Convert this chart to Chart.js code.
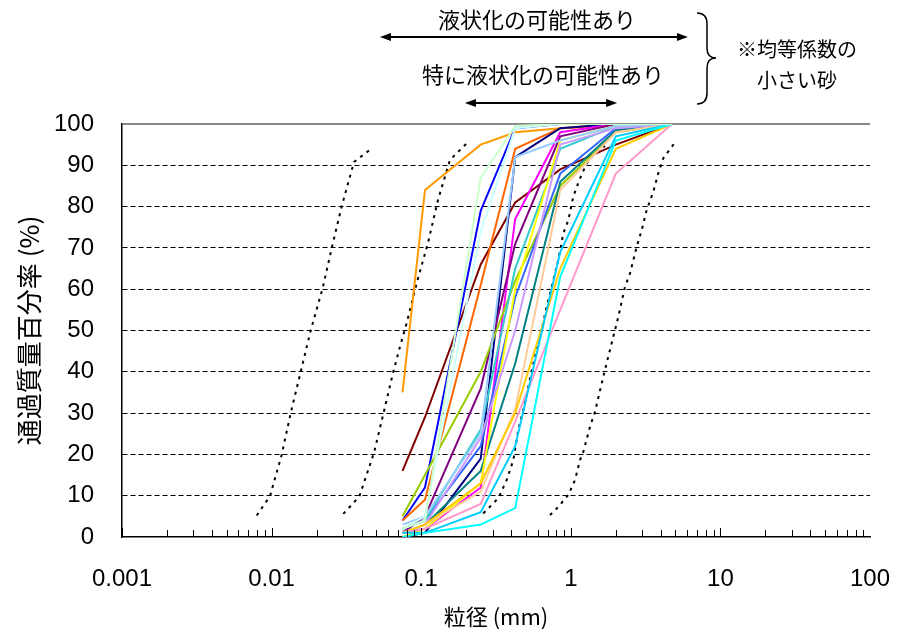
<!DOCTYPE html>
<html>
<head>
<meta charset="utf-8">
<script src="https://cdn.jsdelivr.net/npm/chart.js@4.4.0/dist/chart.umd.min.js"></script>
<style>
  html, body { margin: 0; padding: 0; background: #fff; }
  #wrap { width: 897px; height: 632px; }
</style>
</head>
<body>
<div id="wrap"><canvas id="c"></canvas></div>
<script>
// ふるい目 (mm)
const sieve = [0.075, 0.106, 0.25, 0.425, 0.85, 2, 4.75];

// 各試料の通過質量百分率 (%)
const sOrange    = [35, 84, 95, 98, 99, 99.5, 100];
const sMaroon    = [16, 29, 66, 81, 89, 95, 100];
const sBlue      = [4, 12, 79, 99, 100, 100, 100];
const sPaleGreen = [2, 4, 87, 99.5, 100, 100, 100];
const sPaleCyan  = [2, 5, 74, 99, 100, 100, 100];
const sOrangeRed = [4, 9, 61, 94, 99, 100, 100];
const sNavy      = [0, 1, 19, 92, 99, 100, 100];
const sSkyBlue   = [3, 5, 25, 92, 96, 99.5, 100];
const sMagenta   = [1, 2, 12, 77, 98, 100, 100];
const sPurple    = [1, 5, 36, 71, 97, 100, 100];
const sYellowGrn = [5, 15, 40, 62, 85, 98, 100];
const sTeal      = [1, 3, 16, 42, 86, 98.5, 100];
const sRoyal     = [2, 4, 22, 58, 88, 99, 100];
const sTurquoise = [2, 4, 26, 65, 94, 99.5, 100];
const sYellow    = [0, 2, 13, 60, 96, 99.5, 100];
const sLavender  = [1, 3, 24, 50, 95, 99, 100];
const sPeach     = [1, 3, 11, 31, 84, 98, 100];
const sGold      = [1, 3, 13, 30, 65, 94, 100];
const sPink      = [1, 2, 8, 28, 55, 88, 100];
const sDeepSky   = [1, 1, 6, 22, 69, 97, 100];
const sCyan      = [0, 1, 3, 7, 63, 96, 100];

// 境界線 (点線)
const bound1X = [0.00795, 0.00976, 0.01168, 0.01342, 0.01565, 0.01825, 0.02196, 0.02533, 0.02942, 0.03555, 0.04597];
const bound1Y = [5.2, 9.9, 19.9, 30.0, 40.0, 50.0, 60.3, 70.2, 80.1, 90.8, 93.9];
const bound2X = [0.03015, 0.03857, 0.04836, 0.05728, 0.06478, 0.07217, 0.08001, 0.09333, 0.1110, 0.1295, 0.1557, 0.2014];
const bound2Y = [5.6, 9.8, 20.4, 31.5, 39.7, 46.1, 51.8, 61.5, 71.2, 81.6, 91.3, 95.3];
const bound3X = [0.260, 0.3277, 0.3728, 0.4127, 0.4457, 0.4814, 0.5073, 0.5479, 0.6226, 0.6903, 0.7638, 0.8250, 0.8912, 0.9623, 1.039, 1.140, 1.277, 1.451, 1.693];
const bound3Y = [5.7, 9.4, 13.8, 18.6, 25.9, 30.8, 34.4, 40.4, 48.5, 55.8, 62.2, 67.1, 73.5, 76.7, 82.4, 86.4, 90.5, 92.9, 94.7];
const bound4X = [0.7261, 0.8250, 0.9623, 1.067, 1.152, 1.212, 1.344, 1.451, 1.609, 1.781, 1.924, 2.078, 2.303, 2.487, 2.757, 2.978, 3.217, 3.561, 3.845, 4.152, 4.896];
const bound4Y = [5.3, 7.3, 10.2, 13.8, 18.6, 20.6, 26.7, 30.3, 37.2, 43.7, 48.5, 53.3, 60.6, 63.8, 70.3, 74.3, 79.2, 83.6, 88.1, 91.7, 95.2];

// 目盛り
const xTickValues = [0.001, 0.01, 0.1, 1, 10, 100];
const arrowWide = [0.053, 6.07];
const arrowNarrow = [0.196, 2.04];

const series = [
  [sPaleGreen, '#CCFFCC'], [sPaleCyan, '#CCFFFF'], [sSkyBlue, '#99CCFF'],
  [sCyan, '#00FFFF'], [sDeepSky, '#00CCFF'], [sPink, '#FF99CC'],
  [sGold, '#FFCC00'], [sPeach, '#FFCC99'], [sLavender, '#CC99FF'],
  [sYellow, '#FFFF00'], [sTurquoise, '#33CCCC'], [sRoyal, '#3366FF'],
  [sTeal, '#008080'], [sYellowGrn, '#99CC00'], [sPurple, '#800080'],
  [sMagenta, '#FF00FF'], [sNavy, '#000080'], [sOrangeRed, '#FF6600'],
  [sBlue, '#0000FF'], [sMaroon, '#800000'], [sOrange, '#FF9900']
];

function toPoints(xs, ys) {
  return xs.map((x, i) => ({ x: x, y: ys[i] }));
}

const datasets = series.map(([vals, color]) => ({
  data: toPoints(sieve, vals),
  borderColor: color,
  borderWidth: 2,
  pointRadius: 0,
  tension: 0
}));

[[bound1X, bound1Y], [bound2X, bound2Y], [bound3X, bound3Y], [bound4X, bound4Y]].forEach(([xs, ys]) => {
  datasets.push({
    data: toPoints(xs, ys),
    borderColor: '#000',
    borderWidth: 2,
    borderDash: [3, 5],
    pointRadius: 0,
    tension: 0
  });
});

// x軸の内向き目盛り
const minorTicks = {
  id: 'minorTicks',
  afterDatasetsDraw(chart) {
    const xs = chart.scales.x, ctx = chart.ctx, bottom = chart.chartArea.bottom;
    ctx.save();
    ctx.strokeStyle = '#000';
    ctx.lineWidth = 1;
    for (let e = -3; e < 2; e++) {
      for (let k = 1; k <= 9; k++) {
        const px = Math.round(xs.getPixelForValue(k * Math.pow(10, e))) + 0.5;
        const len = k === 1 ? 9 : 7;
        ctx.beginPath();
        ctx.moveTo(px, bottom);
        ctx.lineTo(px, bottom - len);
        ctx.stroke();
      }
    }
    ctx.restore();
  }
};

function arrow(ctx, x1, x2, y) {
  ctx.beginPath();
  ctx.moveTo(x1 + 8, y);
  ctx.lineTo(x2 - 8, y);
  ctx.stroke();
  ctx.beginPath();
  ctx.moveTo(x1, y); ctx.lineTo(x1 + 11, y - 4); ctx.lineTo(x1 + 11, y + 4); ctx.closePath();
  ctx.fill();
  ctx.beginPath();
  ctx.moveTo(x2, y); ctx.lineTo(x2 - 11, y - 4); ctx.lineTo(x2 - 11, y + 4); ctx.closePath();
  ctx.fill();
}

// 上部の注記
const notes = {
  id: 'notes',
  afterDraw(chart) {
    const xs = chart.scales.x, ctx = chart.ctx;
    ctx.save();
    ctx.fillStyle = '#000';
    ctx.strokeStyle = '#000';
    ctx.lineWidth = 2;
    arrow(ctx, xs.getPixelForValue(arrowWide[0]), xs.getPixelForValue(arrowWide[1]), 37);
    arrow(ctx, xs.getPixelForValue(arrowNarrow[0]), xs.getPixelForValue(arrowNarrow[1]), 103);

    ctx.font = '22px "Noto Sans CJK JP"';
    ctx.textAlign = 'center';
    ctx.textBaseline = 'middle';
    ctx.fillText('液状化の可能性あり', 537, 20);
    ctx.fillText('特に液状化の可能性あり', 543, 75);
    ctx.font = '20px "Noto Sans CJK JP"';
    ctx.fillText('※均等係数の', 797, 49);
    ctx.fillText('小さい砂', 797, 80);

    // 中括弧
    ctx.lineWidth = 1.5;
    ctx.beginPath();
    ctx.moveTo(697, 13);
    ctx.quadraticCurveTo(707, 13, 707, 24);
    ctx.lineTo(707, 48);
    ctx.quadraticCurveTo(707, 58, 716, 58);
    ctx.quadraticCurveTo(707, 58, 707, 68);
    ctx.lineTo(707, 93);
    ctx.quadraticCurveTo(707, 104, 697, 104);
    ctx.stroke();
    ctx.restore();
  }
};

new Chart(document.getElementById('c'), {
  type: 'line',
  data: { datasets: datasets },
  plugins: [minorTicks, notes],
  options: {
    responsive: true,
    maintainAspectRatio: false,
    animation: false,
    layout: { padding: { top: 124, right: 27, left: 0, bottom: 0 } },
    plugins: { legend: { display: false }, tooltip: { enabled: false } },
    scales: {
      x: {
        type: 'logarithmic',
        min: 0.001,
        max: 100,
        afterFit: s => { s.height = 95; s.paddingLeft = 0; s.paddingRight = 0; },
        afterBuildTicks: s => { s.ticks = xTickValues.map(v => ({ value: v })); },
        grid: { display: false, drawTicks: false },
        border: { display: true, color: '#000', width: 1.5 },
        ticks: {
          color: '#000',
          padding: 28,
          maxRotation: 0,
          autoSkip: false,
          font: { family: '"Liberation Sans", Arial, sans-serif', size: 24 },
          callback: v => String(v)
        },
        title: {
          display: true,
          text: '粒径 (mm)',
          color: '#000',
          font: { family: '"Noto Sans CJK JP", sans-serif', size: 22 },
          padding: { top: 0, bottom: 2 }
        }
      },
      y: {
        min: 0,
        max: 100,
        afterFit: s => { s.width = 122; },
        grid: {
          drawTicks: false,
          color: c => c.tick.value === 0 ? 'rgba(0,0,0,0)' : (c.tick.value === 100 ? '#888' : '#000'),
          lineWidth: c => c.tick.value === 100 ? 2 : 1
        },
        border: {
          display: true,
          color: '#000',
          width: 1.5,
          dash: c => (c.tick && c.tick.value === 100) ? [] : [5, 3]
        },
        ticks: {
          stepSize: 10,
          color: '#000',
          padding: 28,
          font: { family: '"Liberation Sans", Arial, sans-serif', size: 24 }
        },
        title: {
          display: true,
          text: '通過質量百分率 (%)',
          color: '#000',
          font: { family: '"Noto Sans CJK JP", sans-serif', size: 26 },
          padding: { top: 14, bottom: 0 }
        }
      }
    }
  }
});
</script>
</body>
</html>
